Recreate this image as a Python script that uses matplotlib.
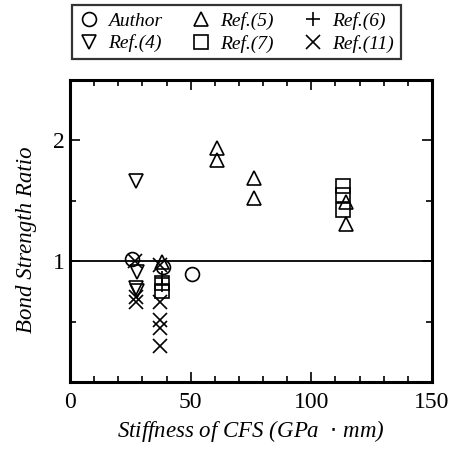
import matplotlib.pyplot as plt
from matplotlib.ticker import MultipleLocator, FixedLocator

plt.rcParams['font.family'] = ['Liberation Serif', 'DejaVu Serif']

author_x = [25.6, 38.6, 50.4]
author_y = [1.02, 0.95, 0.89]
ref4_x = [27.4, 27.6, 27.4, 27.6]
ref4_y = [1.66, 0.91, 0.78, 0.75]
ref5_x = [38.0, 60.8, 60.8, 76.4, 76.4, 114.4, 114.4]
ref5_y = [0.99, 1.94, 1.84, 1.69, 1.52, 1.49, 1.31]
ref6_x = [38.2, 38.2]
ref6_y = [0.86, 0.80]
ref7_x = [38.2, 38.2, 113.3, 113.3, 113.3]
ref7_y = [0.82, 0.75, 1.62, 1.55, 1.42]
ref11_x = [27.0, 27.4, 27.4, 37.3, 37.3, 37.3, 37.3, 37.3]
ref11_y = [1.00, 0.70, 0.66, 0.97, 0.66, 0.51, 0.45, 0.30]

series = [
    ('Author', author_x, author_y, 'o'),
    ('Ref.(4)', ref4_x, ref4_y, 'v'),
    ('Ref.(5)', ref5_x, ref5_y, '^'),
    ('Ref.(7)', ref7_x, ref7_y, 's'),
    ('Ref.(6)', ref6_x, ref6_y, '+'),
    ('Ref.(11)', ref11_x, ref11_y, 'x'),
]

fig = plt.figure(figsize=(4.62, 4.51), dpi=100)
ax = fig.add_axes([70 / 462, 1 - 382 / 451, 362 / 462, 302 / 451])

ax.axhline(1.0, color='black', lw=1.3, zorder=1)

handles = []
for label, xs, ys, m in series:
    h, = ax.plot(xs, ys, linestyle='none', marker=m, markersize=10,
                 markerfacecolor='none', markeredgecolor='black',
                 markeredgewidth=1.2, label=label, zorder=3)
    handles.append(h)

ax.set_xlim(0, 150)
ax.set_ylim(0, 2.5)
ax.xaxis.set_major_locator(FixedLocator([0, 50, 100, 150]))
ax.xaxis.set_minor_locator(MultipleLocator(10))
ax.yaxis.set_major_locator(FixedLocator([1, 2]))
ax.yaxis.set_minor_locator(MultipleLocator(0.5))
ax.tick_params(which='both', direction='in', top=True, right=True,
               labelsize=17, width=1.2)
ax.tick_params(which='major', length=7)
ax.tick_params(which='minor', length=4)
ax.tick_params(axis='x', pad=7)
for sp in ax.spines.values():
    sp.set_linewidth(2.2)

ax.set_xlabel('Stiffness of CFS (GPa  $\\cdot$ mm)', fontsize=16.5,
              style='italic', labelpad=4)
ax.set_ylabel('Bond Strength Ratio', fontsize=16.5, style='italic')
ax.yaxis.set_label_coords(-0.09, 0.47)

leg = fig.legend(handles=handles, ncol=3, loc='upper left',
                 bbox_to_anchor=(72 / 462, 1 - 5 / 451), borderaxespad=0,
                 prop={'size': 14, 'style': 'italic'},
                 frameon=True, fancybox=False, edgecolor='black',
                 handletextpad=0.5, columnspacing=1.5, labelspacing=0.25,
                 borderpad=0.35, handlelength=1.0)
leg.get_frame().set_linewidth(1.6)

fig.savefig('out.png', dpi=100)
